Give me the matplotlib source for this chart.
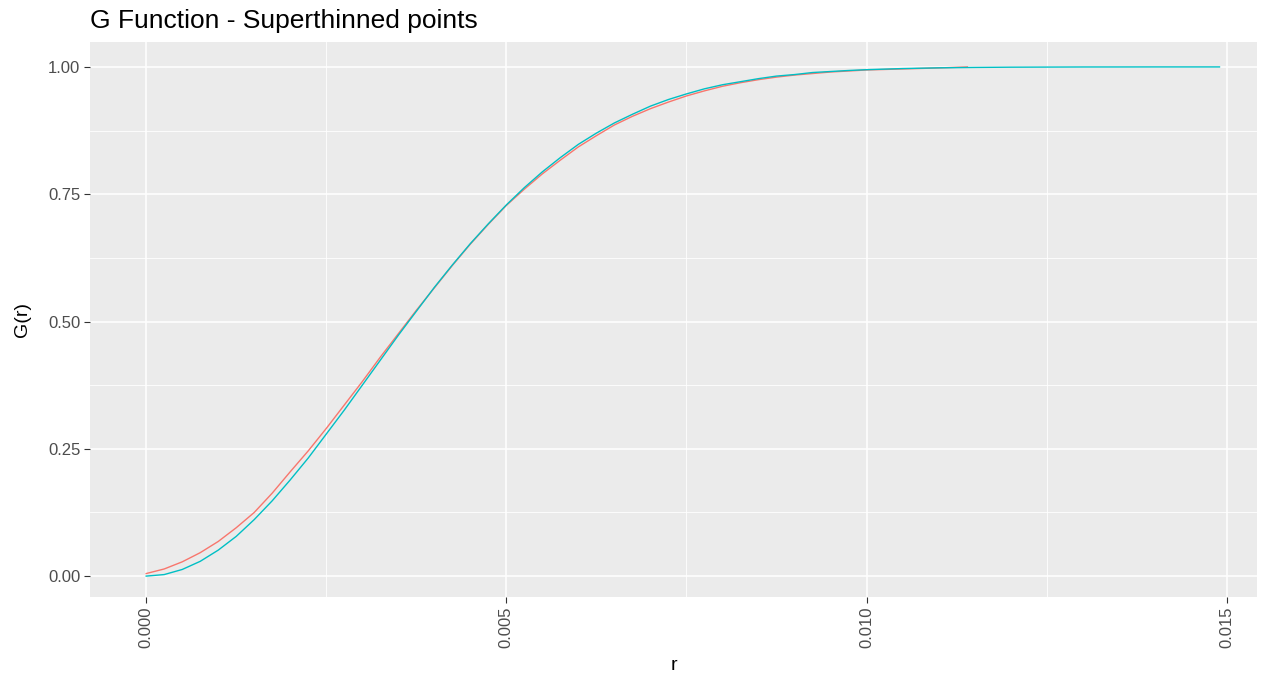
import matplotlib.pyplot as plt
from matplotlib.ticker import MultipleLocator, FormatStrFormatter

plt.rcParams["font.family"] = ["Liberation Sans", "DejaVu Sans"]

# G function estimates for the superthinned pattern (observed vs. theoretical)
r_obs = [0.0, 0.00025, 0.0005, 0.00075, 0.001, 0.00125, 0.0015, 0.00175, 0.002,
         0.00225, 0.0025, 0.00275, 0.003, 0.00325, 0.0035, 0.00375, 0.004, 0.00425,
         0.0045, 0.00475, 0.005, 0.00525, 0.0055, 0.00575, 0.006, 0.00625, 0.0065,
         0.00675, 0.007, 0.00725, 0.0075, 0.00775, 0.008, 0.00825, 0.0085, 0.00875,
         0.009, 0.00925, 0.0095, 0.00975, 0.010, 0.01025, 0.0105, 0.01075, 0.011, 0.0114]
g_obs = [0.005, 0.014, 0.028, 0.046, 0.068, 0.095, 0.125, 0.163, 0.205,
         0.246, 0.290, 0.336, 0.382, 0.430, 0.476, 0.522, 0.566, 0.610,
         0.652, 0.691, 0.728, 0.760, 0.790, 0.817, 0.843, 0.865, 0.886,
         0.903, 0.918, 0.931, 0.943, 0.953, 0.962, 0.969, 0.975, 0.980,
         0.984, 0.987, 0.990, 0.992, 0.994, 0.995, 0.996, 0.997, 0.998, 1.0]

r_theo = [0.0, 0.00025, 0.0005, 0.00075, 0.001, 0.00125, 0.0015, 0.00175, 0.002,
          0.00225, 0.0025, 0.00275, 0.003, 0.00325, 0.0035, 0.00375, 0.004, 0.00425,
          0.0045, 0.00475, 0.005, 0.00525, 0.0055, 0.00575, 0.006, 0.00625, 0.0065,
          0.00675, 0.007, 0.00725, 0.0075, 0.00775, 0.008, 0.00825, 0.0085, 0.00875,
          0.009, 0.00925, 0.0095, 0.00975, 0.010, 0.0105, 0.011, 0.0115, 0.012,
          0.0125, 0.013, 0.0135, 0.014, 0.0149]
g_theo = [0.0, 0.003, 0.013, 0.029, 0.051, 0.078, 0.111, 0.148, 0.189,
          0.232, 0.279, 0.326, 0.375, 0.424, 0.473, 0.520, 0.567, 0.611,
          0.653, 0.692, 0.729, 0.763, 0.794, 0.822, 0.848, 0.870, 0.890,
          0.907, 0.923, 0.936, 0.947, 0.957, 0.965, 0.971, 0.977, 0.982,
          0.985, 0.989, 0.991, 0.993, 0.9946, 0.9968, 0.9982, 0.9990, 0.9995,
          0.9997, 0.9999, 0.99993, 1.0, 1.0]

fig = plt.figure(figsize=(12.73, 6.76), dpi=100)
ax = fig.add_axes([0.0707, 0.1169, 0.9874 - 0.0707, 0.9379 - 0.1169])
ax.set_facecolor("#EBEBEB")
for s in ax.spines.values():
    s.set_visible(False)

ax.plot(r_obs, g_obs, color="#F8766D", lw=1.0)
ax.plot(r_theo, g_theo, color="#00BFC4", lw=1.0)

ax.set_xlim(-0.00078, 0.01542)
ax.set_ylim(-0.041, 1.049)

ax.xaxis.set_major_locator(MultipleLocator(0.005))
ax.xaxis.set_minor_locator(MultipleLocator(0.0025))
ax.yaxis.set_major_locator(MultipleLocator(0.25))
ax.yaxis.set_minor_locator(MultipleLocator(0.125))
ax.xaxis.set_major_formatter(FormatStrFormatter("%.3f"))
ax.yaxis.set_major_formatter(FormatStrFormatter("%.2f"))

ax.grid(which="major", color="white", lw=1.1)
ax.grid(which="minor", color="white", lw=0.6)
ax.set_axisbelow(True)

ax.tick_params(which="major", length=4, width=0.8, color="#333333",
               labelcolor="#4D4D4D", labelsize=12, pad=3)
ax.tick_params(which="minor", length=0)
plt.setp(ax.get_xticklabels(), rotation=90, va="top", ha="center")

ax.set_xlabel("r", fontsize=14, color="black", labelpad=6)
ax.set_ylabel("G(r)", fontsize=14, color="black", labelpad=12)
fig.text(0.0707, 0.958, "G Function - Superthinned points", fontsize=19,
         color="black", ha="left", va="baseline")

fig.savefig("out.png", dpi=100, facecolor="white")
